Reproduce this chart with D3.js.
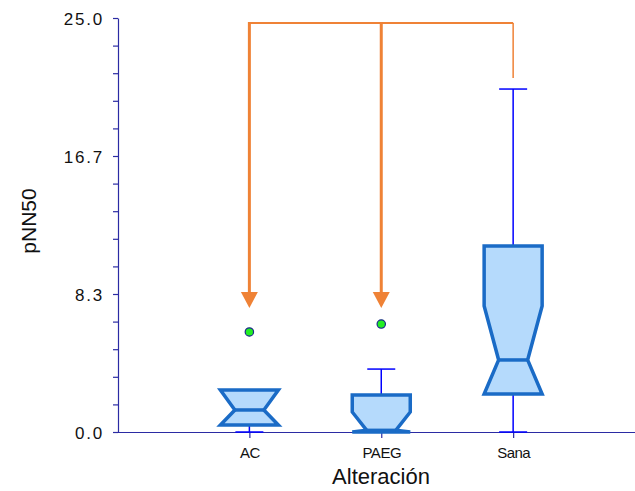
<!DOCTYPE html>
<html>
<head>
<meta charset="utf-8">
<script src="https://cdn.jsdelivr.net/npm/d3@7"></script>
<style>
  html, body { margin: 0; padding: 0; background: #fff; }
  svg { display: block; }
  text { font-family: "Liberation Sans", Arial, sans-serif; fill: #111; }
</style>
</head>
<body>
<svg id="chart" width="635" height="491"></svg>
<script>
// ---- data ----
const categories = ["AC", "PAEG", "Sana"];
const whiskerLow  = [0.00, 0.00, 0.00];
const q1          = [0.42, 0.00, 2.29];
const median      = [1.33, 0.10, 4.35];
const q3          = [2.54, 2.23, 11.23];
const whiskerHigh = [2.54, 3.80, 20.71];
const notchLow    = [0.42, 0.00, 2.29];
const notchHigh   = [2.54, 1.21, 7.61];
const outliers    = [[6.04], [6.52], []];
const yTickLabels = ["0.0", "8.3", "16.7", "25.0"];
// annotation (bracket with arrows), in data units
const bracketLevel = 24.7;
const arrowTipValue = 7.49;
const arrowTargets = ["AC", "PAEG"];
const bracketEnd = "Sana";
const bracketEndValue = 21.38;

// ---- scales ----
const svg = d3.select("#chart");
const x = d3.scaleLinear().domain([0, 3.924]).range([117.5, 635]);
const y = d3.scaleLinear().domain([0, 25]).range([432, 18]);
const xc = name => x(categories.indexOf(name) + 1);

const axisColor = "#2b2ba3";
const boxStroke = "#1a6bc6";
const boxFill = "#b5dafc";
const whiskerColor = "#0000ff";
const orange = "#ef8236";

const halfW = 29, narrowW = 14.5, capW = 14;

// ---- y axis ----
const minorVals = d3.range(0, 16).map(i => i * 25 / 15);
const yAxis = d3.axisLeft(y)
  .tickValues(minorVals)
  .tickSize(5)
  .tickSizeOuter(0)
  .tickFormat((d, i) => (i % 5 === 0 ? yTickLabels[i / 5] : ""));
const gy = svg.append("g").attr("transform", "translate(118,0)").call(yAxis);
gy.select(".domain").attr("stroke", axisColor).attr("stroke-width", 1.2);
gy.selectAll(".tick line").attr("stroke", axisColor).attr("stroke-width", 1.2);
gy.selectAll(".tick text")
  .attr("x", -14)
  .attr("dy", "0.36em")
  .style("font-size", "17px")
  .style("letter-spacing", "1.8px")
  .style("font-family", "'Liberation Sans', Arial, sans-serif")
  .attr("fill", "#111");

// ---- x axis ----
const xAxis = d3.axisBottom(x)
  .tickValues([1, 2, 3])
  .tickSize(6)
  .tickSizeOuter(0)
  .tickFormat(d => categories[d - 1]);
const gx = svg.append("g").attr("transform", "translate(0,432)").call(xAxis);
gx.select(".domain").attr("stroke", axisColor).attr("stroke-width", 1.2);
gx.selectAll(".tick line").attr("stroke", axisColor).attr("stroke-width", 1.2);
gx.selectAll(".tick text")
  .attr("y", 15)
  .style("font-size", "15px")
  .style("letter-spacing", "-0.5px")
  .style("font-family", "'Liberation Sans', Arial, sans-serif")
  .attr("fill", "#111");

// ---- axis titles ----
svg.append("text")
  .attr("x", 381).attr("y", 484)
  .attr("text-anchor", "middle")
  .style("font-size", "22px")
  .text("Alteración");
svg.append("text")
  .attr("transform", "translate(36,221) rotate(-90)")
  .attr("text-anchor", "middle")
  .style("font-size", "21px")
  .text("pNN50");

// ---- boxes ----
const plot = svg.append("g");
categories.forEach((c, i) => {
  const cx = xc(c);
  const g = plot.append("g");
  // whiskers
  g.append("line").attr("x1", cx).attr("x2", cx)
    .attr("y1", y(whiskerHigh[i])).attr("y2", y(q3[i]))
    .attr("stroke", whiskerColor).attr("stroke-width", 1.5);
  g.append("line").attr("x1", cx).attr("x2", cx)
    .attr("y1", y(q1[i])).attr("y2", y(whiskerLow[i]))
    .attr("stroke", whiskerColor).attr("stroke-width", 1.5);
  [whiskerHigh[i], whiskerLow[i]].forEach(v => {
    g.append("line").attr("x1", cx - capW).attr("x2", cx + capW)
      .attr("y1", y(v)).attr("y2", y(v))
      .attr("stroke", whiskerColor).attr("stroke-width", 1.5);
  });
  // notched box
  const pts = [
    [cx - halfW, y(q3[i])], [cx + halfW, y(q3[i])],
    [cx + halfW, y(notchHigh[i])], [cx + narrowW, y(median[i])],
    [cx + halfW, y(notchLow[i])], [cx + halfW, y(q1[i])],
    [cx - halfW, y(q1[i])], [cx - halfW, y(notchLow[i])],
    [cx - narrowW, y(median[i])], [cx - halfW, y(notchHigh[i])]
  ];
  g.append("path")
    .attr("d", d3.line()(pts) + "Z")
    .attr("fill", boxFill).attr("stroke", boxStroke)
    .attr("stroke-width", 3.5).attr("stroke-linejoin", "miter");
  g.append("line").attr("x1", cx - narrowW).attr("x2", cx + narrowW)
    .attr("y1", y(median[i])).attr("y2", y(median[i]))
    .attr("stroke", boxStroke).attr("stroke-width", 3.5);
  // outliers
  outliers[i].forEach(v => {
    g.append("circle").attr("cx", cx).attr("cy", y(v)).attr("r", 4.2)
      .attr("fill", "#22ee22").attr("stroke", "#1a2a8a").attr("stroke-width", 1.2);
  });
});

// ---- annotation ----
const ann = svg.append("g");
ann.append("line")
  .attr("x1", xc(arrowTargets[0])).attr("x2", xc(bracketEnd))
  .attr("y1", y(bracketLevel)).attr("y2", y(bracketLevel))
  .attr("stroke", orange).attr("stroke-width", 2);
ann.append("line")
  .attr("x1", xc(bracketEnd)).attr("x2", xc(bracketEnd))
  .attr("y1", y(bracketLevel)).attr("y2", y(bracketEndValue))
  .attr("stroke", orange).attr("stroke-width", 1.5);
arrowTargets.forEach(c => {
  const cx = xc(c);
  const tip = y(arrowTipValue);
  ann.append("line")
    .attr("x1", cx).attr("x2", cx)
    .attr("y1", y(bracketLevel) - 1).attr("y2", tip - 15)
    .attr("stroke", orange).attr("stroke-width", 3);
  ann.append("path")
    .attr("d", `M${cx - 8.5},${tip - 16} L${cx + 8.5},${tip - 16} L${cx},${tip} Z`)
    .attr("fill", orange);
});
</script>
</body>
</html>
